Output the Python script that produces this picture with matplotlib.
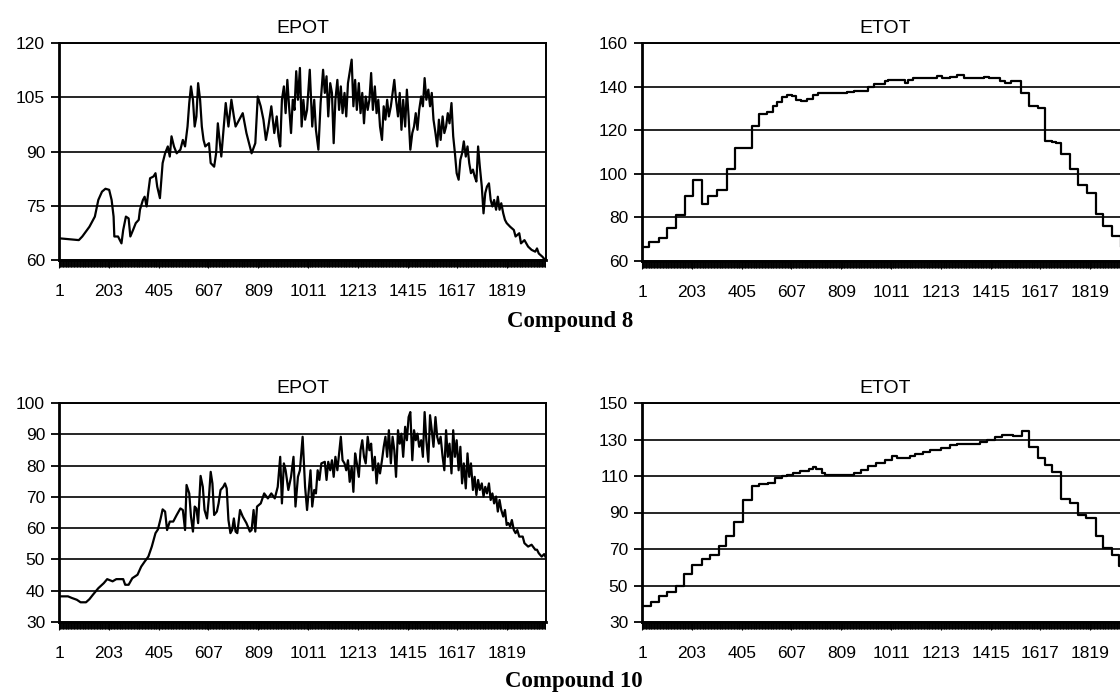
import matplotlib
matplotlib.use("Agg")
import matplotlib.pyplot as plt
from matplotlib.ticker import MultipleLocator, FixedLocator

# Compound 8, EPOT (time step, value)
epot8_step = [1, 81, 95, 124, 146, 160, 175, 189, 204, 214, 222, 225, 240, 254, 261, 272, 283, 290,
              301, 312, 324, 329, 341, 348, 356, 363, 370, 384, 392, 399, 410, 421, 431, 442, 450,
              457, 467, 478, 493, 503, 512, 522, 529, 536, 544, 551, 558, 565, 573, 580, 587, 594,
              609, 616, 630, 638, 645, 652, 659, 667, 677, 688, 700, 710, 717, 732, 746, 761, 775,
              782, 797, 807, 819, 830, 840, 850, 862, 874, 884, 891, 898, 905, 913, 920, 927, 934,
              942, 949, 956, 963, 970, 978, 985, 992, 999, 1007, 1018, 1028, 1036, 1043, 1053, 1062,
              1072, 1079, 1086, 1093, 1101, 1108, 1115, 1122, 1130, 1137, 1144, 1151, 1159, 1166,
              1173, 1188, 1195, 1202, 1209, 1217, 1224, 1231, 1238, 1245, 1253, 1260, 1267, 1274,
              1282, 1289, 1296, 1303, 1311, 1318, 1325, 1332, 1339, 1347, 1354, 1361, 1368, 1376,
              1383, 1390, 1397, 1405, 1412, 1419, 1426, 1434, 1441, 1448, 1455, 1462, 1470, 1477,
              1484, 1491, 1499, 1506, 1513, 1520, 1528, 1535, 1542, 1549, 1557, 1564, 1571, 1578,
              1585, 1593, 1600, 1607, 1614, 1622, 1629, 1636, 1643, 1651, 1658, 1665, 1672, 1680,
              1687, 1694, 1701, 1708, 1716, 1723, 1730, 1737, 1745, 1752, 1759, 1766, 1774, 1781,
              1788, 1795, 1803, 1810, 1817, 1831, 1846, 1853, 1868, 1875, 1889, 1904, 1918, 1933,
              1940, 1947, 1962, 1973]
epot8_val = [66.0, 65.5, 66.5, 69.2, 72.0, 76.6, 78.9, 79.7, 79.4, 76.6, 72.0, 66.5, 66.5, 64.6,
             68.3, 72.0, 71.5, 66.5, 68.3, 70.2, 71.1, 73.9, 76.6, 77.5, 74.8, 78.9, 82.6, 83.1,
             84.0, 80.3, 77.1, 86.8, 89.5, 91.4, 88.6, 94.2, 91.4, 89.5, 90.5, 93.2, 91.4, 96.9,
             103.4, 108.0, 104.3, 96.9, 99.7, 108.9, 104.3, 96.9, 93.2, 91.4, 92.3, 86.8, 85.8,
             89.5, 97.8, 93.2, 88.6, 95.1, 103.4, 96.9, 104.3, 99.7, 96.9, 98.8, 100.6, 95.1, 91.4,
             89.5, 92.3, 105.2, 102.5, 98.8, 93.2, 96.9, 102.5, 95.1, 99.7, 94.2, 91.4, 104.3,
             108.0, 100.6, 109.8, 102.5, 95.1, 104.3, 101.5, 112.2, 104.3, 113.1, 96.9, 104.3, 98.8,
             101.5, 112.6, 96.9, 104.3, 96.0, 90.5, 103.4, 112.6, 106.2, 110.8, 99.7, 108.9, 106.2,
             92.3, 104.3, 109.8, 101.5, 108.0, 100.6, 106.2, 99.7, 108.9, 115.4, 102.5, 109.8,
             101.5, 108.9, 100.6, 106.2, 97.8, 105.2, 101.5, 104.3, 111.7, 101.5, 108.0, 100.6,
             104.3, 96.9, 93.2, 102.5, 98.8, 104.3, 99.7, 102.5, 106.2, 109.8, 104.3, 99.7, 106.2,
             96.0, 104.3, 96.9, 107.1, 99.7, 90.5, 95.1, 96.9, 100.6, 96.0, 101.5, 105.2, 102.5,
             110.3, 104.3, 107.1, 102.5, 106.2, 98.8, 95.1, 91.4, 98.8, 93.2, 99.7, 95.1, 96.9,
             100.6, 97.8, 103.4, 94.2, 89.5, 84.0, 82.2, 87.7, 89.5, 92.8, 88.6, 91.4, 86.8, 84.0,
             85.0, 83.1, 81.7, 91.4, 85.8, 80.3, 72.9, 78.5, 80.3, 81.2, 76.6, 74.8, 76.6, 73.9,
             77.5, 73.9, 75.7, 72.9, 71.1, 70.2, 69.2, 68.3, 66.5, 67.4, 64.6, 65.5, 63.7, 62.8,
             62.3, 63.2, 61.8, 60.9, 60.0]

# Compound 8, ETOT (step where each level starts, level)
etot8_step = [1, 27, 71, 100, 137, 174, 206, 242, 269, 305, 345, 378, 447, 476, 507, 532, 547,
              568, 590, 609, 627, 645, 671, 693, 715, 773, 832, 861, 919, 941, 985, 1000, 1066,
              1080, 1102, 1197, 1219, 1249, 1278, 1307, 1388, 1410, 1453, 1475, 1497, 1537, 1570,
              1607, 1636, 1663, 1680, 1702, 1736, 1768, 1805, 1844, 1870, 1907, 1943, 1976]
etot8_val = [66.4, 68.7, 70.5, 75.0, 81.0, 90.0, 97.0, 86.0, 90.0, 92.5, 102.0, 112.0, 122.0,
             127.5, 128.5, 131.0, 133.0, 135.0, 136.0, 135.5, 134.0, 133.5, 134.5, 136.0, 137.0,
             137.0, 137.5, 138.0, 140.0, 141.0, 142.5, 143.0, 141.5, 143.0, 144.0, 145.0, 144.0,
             144.5, 145.5, 144.0, 144.5, 144.0, 142.5, 141.5, 142.5, 137.0, 131.0, 130.0, 115.0,
             114.5, 114.0, 109.0, 102.0, 95.0, 91.0, 81.5, 76.0, 71.5, 67.0, 67.0]

# Compound 10, EPOT
epot10_step = [1, 37, 52, 73, 88, 110, 124, 138, 160, 182,
               196, 218, 233, 261, 269, 283, 298, 319, 334, 348,
               363, 377, 392, 402, 413, 421, 431, 439, 450, 464,
               478, 493, 503, 512, 518, 529, 536, 544, 551, 558,
               565, 575, 584, 591, 601, 609, 616, 623, 630, 641,
               648, 656, 667, 674, 681, 688, 696, 703, 710, 717,
               724, 735, 746, 761, 775, 782, 790, 797, 804, 819,
               833, 848, 862, 876, 888, 898, 905, 913, 920, 931,
               942, 952, 960, 970, 978, 989, 999, 1007, 1014, 1021,
               1028, 1036, 1043, 1050, 1057, 1065, 1079, 1086, 1093, 1101,
               1108, 1115, 1122, 1130, 1144, 1151, 1159, 1166, 1173, 1180,
               1188, 1195, 1202, 1209, 1217, 1224, 1231, 1238, 1245, 1253,
               1260, 1267, 1274, 1282, 1289, 1296, 1303, 1311, 1318, 1325,
               1332, 1339, 1347, 1354, 1361, 1368, 1376, 1383, 1390, 1397,
               1405, 1412, 1419, 1426, 1434, 1441, 1448, 1455, 1462, 1470,
               1477, 1484, 1491, 1499, 1506, 1513, 1520, 1528, 1535, 1542,
               1549, 1557, 1564, 1571, 1578, 1585, 1593, 1600, 1607, 1614,
               1622, 1629, 1636, 1643, 1651, 1658, 1665, 1672, 1680, 1687,
               1694, 1701, 1708, 1716, 1723, 1730, 1737, 1745, 1752, 1759,
               1766, 1774, 1781, 1788, 1795, 1803, 1810, 1817, 1824, 1831,
               1838, 1846, 1853, 1860, 1868, 1882, 1889, 1904, 1918, 1933,
               1940, 1947, 1959, 1969, 1976]
epot10_val = [38.2, 38.2, 37.7, 37.1, 36.3, 36.3, 37.3, 38.7, 40.8, 42.4,
              43.7, 43.0, 43.7, 43.7, 41.9, 41.9, 44.0, 45.1, 47.7, 49.3,
              50.9, 54.1, 58.4, 59.6, 63.1, 66.0, 65.3, 59.4, 62.1, 62.1,
              64.2, 66.3, 65.8, 59.4, 73.8, 71.1, 63.7, 58.9, 66.9, 66.3,
              61.6, 76.7, 73.2, 65.8, 63.1, 70.1, 78.0, 74.3, 64.2, 65.3,
              67.9, 72.2, 73.2, 74.3, 72.7, 62.6, 58.4, 59.4, 63.1, 58.9,
              58.4, 65.8, 63.7, 61.6, 58.9, 59.4, 65.8, 58.9, 66.9, 67.9,
              71.1, 69.5, 71.1, 69.5, 73.2, 82.8, 67.9, 80.7, 78.5, 72.2,
              76.4, 82.8, 66.9, 76.4, 78.5, 89.2, 73.2, 65.8, 72.2, 78.5,
              66.9, 72.2, 71.1, 78.5, 75.4, 80.7, 81.2, 75.4, 81.2, 78.5,
              81.7, 76.4, 82.8, 78.5, 89.2, 81.7, 80.7, 78.5, 81.7, 74.8,
              79.6, 71.6, 83.9, 80.7, 76.4, 84.9, 88.1, 82.8, 80.7, 89.2,
              84.9, 87.0, 78.5, 82.8, 74.3, 80.7, 77.5, 81.7, 86.0, 89.2,
              82.8, 91.3, 80.7, 89.2, 84.9, 76.4, 91.3, 87.0, 90.2, 82.8,
              92.4, 88.1, 95.5, 97.1, 81.7, 91.3, 88.1, 90.2, 86.0, 88.1,
              82.8, 97.1, 88.1, 81.2, 96.1, 91.3, 86.0, 95.5, 89.2, 87.0,
              89.2, 82.8, 78.5, 91.3, 82.8, 87.0, 77.5, 91.3, 82.8, 88.1,
              78.5, 86.0, 74.3, 80.7, 72.7, 83.9, 76.4, 80.7, 72.2, 76.4,
              70.6, 75.4, 72.2, 74.3, 70.1, 73.2, 71.1, 74.3, 69.0, 71.1,
              67.9, 70.1, 65.3, 69.0, 65.8, 63.7, 65.8, 61.0, 61.6, 60.5,
              62.6, 59.4, 58.4, 59.4, 57.3, 57.3, 55.2, 54.1, 54.7, 53.1,
              53.1, 52.0, 50.9, 51.7, 50.6]

# Compound 10, ETOT
etot10_step = [1, 35, 68, 100, 137, 171, 203, 242, 276, 313, 342, 375, 412, 447, 476, 510, 539,
               568, 590, 612, 642, 678, 693, 707, 729, 744, 832, 861, 890, 919, 949, 985, 1015,
               1037, 1066, 1088, 1110, 1139, 1168, 1212, 1249, 1278, 1329, 1373, 1402, 1431, 1461,
               1505, 1541, 1563, 1570, 1607, 1636, 1665, 1702, 1739, 1768, 1804, 1841, 1873, 1907,
               1936, 1976]
etot10_val = [38.6, 40.7, 44.0, 46.2, 49.8, 56.4, 61.3, 64.6, 66.8, 71.9, 77.2, 84.6, 96.8, 104.5,
              105.6, 106.3, 108.7, 110.0, 110.8, 111.8, 112.9, 113.6, 115.0, 113.6, 111.4, 110.8,
              110.8, 111.4, 113.2, 115.4, 117.2, 119.0, 120.9, 119.6, 120.1, 121.0, 122.3, 123.2,
              124.1, 125.1, 126.9, 127.4, 127.8, 128.7, 129.6, 131.1, 132.2, 131.8, 134.7, 134.5,
              126.0, 119.6, 115.9, 112.3, 97.2, 95.0, 88.6, 86.8, 77.2, 70.4, 66.8, 60.8, 60.8]

n_steps = 1976
xtick_labels = [1, 203, 405, 607, 809, 1011, 1213, 1415, 1617, 1819]

epot8_ticks = [60, 75, 90, 105, 120]
etot8_ticks = [60, 80, 100, 120, 140, 160]
epot10_ticks = [30, 40, 50, 60, 70, 80, 90, 100]
etot10_ticks = [30, 50, 70, 90, 110, 130, 150]

plt.rcParams['font.family'] = ['Liberation Sans', 'DejaVu Sans']

fig = plt.figure(figsize=(11.2, 6.96), dpi=100)

W, H = 1120.0, 696.0


def make_axes(left, top, bottom, width=487):
    return fig.add_axes([left / W, 1 - bottom / H, width / W, (bottom - top) / H])


def style_panel(ax, title, yticks):
    ax.set_xlim(0.5, n_steps + 0.5)
    ax.set_ylim(yticks[0], yticks[-1])
    ax.set_yticks(yticks)
    ax.yaxis.grid(True, color='black', linewidth=1.2)
    ax.set_axisbelow(True)
    ax.xaxis.set_major_locator(FixedLocator(xtick_labels))
    ax.set_xticklabels([str(v) for v in xtick_labels])
    # dense category tick marks, they merge into a dark band under the axis
    ax.xaxis.set_minor_locator(MultipleLocator(3))
    ax.tick_params(axis='x', which='major', length=6, width=0.8, pad=11, labelsize=12.5,
                   direction='out')
    ax.tick_params(axis='x', which='minor', length=5, width=0.7, direction='out')
    ax.tick_params(axis='y', which='major', length=6, width=1.3, pad=4, labelsize=12.5)
    for side in ['left', 'bottom', 'top', 'right']:
        ax.spines[side].set_color('black')
        ax.spines[side].set_linewidth(1.4)
    ax.spines['left'].set_linewidth(2.0)
    ax.spines['bottom'].set_linewidth(2.0)
    ax.set_title(title, fontsize=14, pad=7)


ax1 = make_axes(59, 43, 260)
ax1.plot(epot8_step, epot8_val, color='black', linewidth=1.6)
style_panel(ax1, 'EPOT', epot8_ticks)

ax2 = make_axes(642, 43, 261)
ax2.plot(etot8_step, etot8_val, color='black', linewidth=1.6, drawstyle='steps-post')
style_panel(ax2, 'ETOT', etot8_ticks)

ax3 = make_axes(59, 403, 622)
ax3.plot(epot10_step, epot10_val, color='black', linewidth=1.6)
style_panel(ax3, 'EPOT', epot10_ticks)

ax4 = make_axes(642, 403, 622)
ax4.plot(etot10_step, etot10_val, color='black', linewidth=1.6, drawstyle='steps-post')
style_panel(ax4, 'ETOT', etot10_ticks)

fig.text(570 / W, 1 - 322 / H, 'Compound 8', ha='center', va='center', fontsize=16.5,
         fontweight='bold', family=['Liberation Serif', 'DejaVu Serif'])
fig.text(574 / W, 1 - 682 / H, 'Compound 10', ha='center', va='center', fontsize=16.5,
         fontweight='bold', family=['Liberation Serif', 'DejaVu Serif'])

fig.savefig('out.png', dpi=100)
